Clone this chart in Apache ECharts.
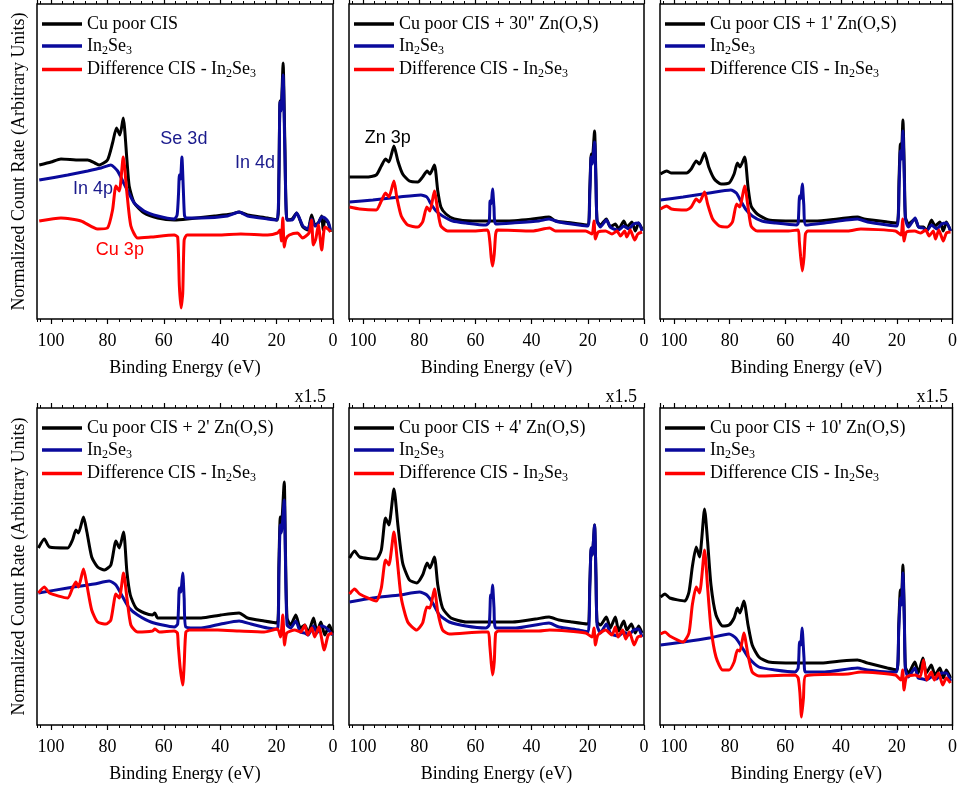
<!DOCTYPE html>
<html>
<head>
<meta charset="utf-8">
<script src="https://cdn.jsdelivr.net/npm/echarts@6/dist/echarts.min.js"></script>
<style>
html, body { margin: 0; padding: 0; background: #fff; }
#main { width: 960px; height: 786px; }
</style>
</head>
<body>
<div id="main"></div>
<script>
// binding energy (eV) / normalized count rate (arb. units) pairs
var p1Cis = [[104.2,154],[100,157],[96.5,160],[90,159],[87,159],[84.5,156],[82.9,154],[80,159],[78.2,176],[76.8,191],[75.6,184],[74.4,201],[73.1,159],[72.3,133],[70.5,116],[67,106],[62.2,101],[56.3,99],[51.6,100],[42,103],[36,105],[33.3,107],[30.3,104],[23.2,101],[19.7,99],[19.2,140],[18.8,218],[18.4,210],[17.7,256],[17.1,180],[16.3,99],[14.5,100],[12.9,106],[10.7,92],[8.9,89],[7.6,104],[6.4,94],[5.2,96],[4.0,103],[3.5,89],[2.9,99],[1.7,96],[0.9,87]];
var p1In2Se3 = [[104.2,139],[94.1,144],[87,148],[82.3,151],[78.8,154],[76.4,148],[74.6,138],[72.8,128],[70.5,116],[67,108],[62.2,103],[56.3,100],[55.3,104],[54.8,125],[54.5,144],[54.1,140],[53.6,162],[53.1,130],[52.7,104],[52.2,101],[46.8,101],[37.4,103],[33.3,107],[30.3,103],[23.2,100],[19.9,99],[19.2,140],[18.8,217],[18.4,208],[17.7,244],[17.1,170],[16.3,99],[14.5,99],[12.9,106],[10.7,93],[8.9,90],[7.6,100],[6.4,93],[5.2,96],[4,102],[2.9,101],[1.7,97],[0.9,89]];
var p1Diff = [[104.2,98],[96.5,101],[89.4,98],[83.5,90],[80,91],[78.2,109],[77,133],[75.8,128],[74.4,162],[73.1,126],[71.7,93],[69.3,81],[64.6,82],[56.3,84],[55.1,82],[54.5,33],[53.9,11],[53.3,26],[52.8,79],[51.8,84],[40.9,84],[32.7,85],[23.2,84],[19.7,86],[18.8,89],[18.3,78],[17.8,101],[17.3,72],[16.7,80],[15.5,84],[12.6,86],[10.8,81],[8.5,86],[7.6,99],[7,74],[6.1,80],[5.2,94],[4,69],[2.9,92],[1.4,89],[0.9,87]];

var p2Cis = [[104.8,142],[98.9,142],[95.3,144],[93.5,153],[92,160],[90.8,157],[89,173],[87.6,158],[85.9,145],[83.5,138],[80.5,137],[78.8,142],[77.2,148],[76.2,145],[74.6,154],[73.4,128],[72.3,112],[70.5,105],[67.5,100],[61,98],[56.3,98],[49.2,98],[39.8,100],[33.8,102],[31.5,98],[25.6,96],[20.2,94],[19.3,130],[18.8,165],[18.4,160],[17.6,188],[17.1,140],[16.7,98],[15.5,94],[13.4,100],[12,92],[10.2,95],[9,90],[7.2,98],[6.1,92],[4.3,97],[3.1,88],[1.9,96],[0.7,90]];
var p2In2Se3 = [[104.8,117],[96.5,119],[87,122],[79.4,124],[77.3,122],[75.8,115],[74,108],[71.7,103],[68.1,98],[63.4,96],[56.3,94],[55.1,97],[54.8,118],[54.4,115],[53.9,130],[53.4,112],[52.8,95],[46.8,96],[37.4,98],[33.8,100],[30.3,97],[23.2,94],[19.9,93],[19.3,125],[18.8,162],[18.4,155],[17.6,177],[17.1,135],[16.7,98],[15.5,92],[13.4,99],[12,92],[10.8,90],[9,89],[7.2,93],[5.5,90],[3.7,95],[1.9,96],[0.7,88]];
var p2Diff = [[104.8,112],[101.2,110],[95.3,109],[93.5,118],[92,126],[90.8,122],[89,138],[88,122],[86.4,103],[84.1,94],[80.5,92],[78.8,97],[77.3,112],[76.2,108],[74.6,128],[73.4,108],[72.3,93],[69.9,88],[61,88],[55.7,89],[54.9,78],[54.4,62],[53.9,53],[53.3,65],[52.8,85],[52.2,89],[39.8,88],[33.6,91],[31.5,88],[20.8,88],[18.5,85],[17.8,98],[17.3,80],[16.3,87],[13.7,88],[11.4,85],[9.6,88],[8.4,83],[6.9,88],[6.1,82],[4.9,89],[3.3,79],[2.2,85],[0.7,87]];

var p3Cis = [[104.8,145],[102.6,148],[100.9,146],[95.5,146],[93.8,150],[92,158],[90.8,155],[89,166],[87.5,152],[85.5,140],[83.1,135],[80.2,136],[78.4,145],[77.2,156],[76.3,152],[74.6,162],[73.4,132],[72.3,113],[70.1,105],[66,99],[56.5,98],[49.4,98],[41.2,100],[34.1,102],[31.7,100],[23.4,97],[19.9,96],[19.2,140],[18.7,175],[18.3,168],[17.8,199],[17.3,150],[16.9,102],[15.8,95],[13.4,100],[12.2,92],[10.4,92],[9.3,88],[7.5,99],[6.3,93],[4.5,97],[3.3,88],[2.2,97],[0.7,88]];
var p3In2Se3 = [[104.8,119],[96.7,122],[87.3,126],[79.6,129],[77.6,126],[76,118],[74.3,110],[71.9,103],[68.4,98],[63.6,96],[56,94],[55.4,96],[54.9,123],[54.5,120],[53.9,135],[53.4,115],[52.6,94],[45.9,96],[34.1,100],[30.5,97],[23.4,94],[19.9,93],[19.2,130],[18.7,168],[18.3,160],[17.8,188],[17.3,140],[16.9,100],[15.8,92],[13.4,101],[12.2,92],[10.6,91],[9.3,88],[7.5,94],[5.7,90],[3.9,95],[2.2,96],[0.7,88]];
var p3Diff = [[104.8,110],[102.6,113],[100.9,110],[95.5,109],[93.8,112],[92,120],[90.8,117],[89,127],[87.9,115],[86.1,100],[83.7,93],[80.8,92],[79,97],[77.5,115],[76.4,112],[74.6,133],[73.4,112],[72.3,93],[70.1,88],[58.9,88],[55.4,89],[55,78],[54.5,62],[53.9,48],[53.3,62],[52.8,85],[52,88],[37.6,88],[32.9,90],[20.5,88],[18.5,84],[17.9,100],[17.4,78],[16.5,87],[13.6,88],[11.4,86],[9.6,89],[8.4,83],[6.9,88],[6.1,80],[4.9,89],[3.3,78],[2.2,86],[0.7,87]];

var p4Cis = [[104.5,177],[102.4,186],[100.6,178],[94.1,177],[92.4,185],[91.2,195],[90.3,192],[88.5,208],[87.3,193],[85.6,168],[83.5,158],[81.1,155],[78.8,160],[77,184],[75.8,177],[74.3,193],[73.1,153],[71.9,130],[69.9,117],[66.9,112],[64,110],[63.2,112],[62.2,107],[56.3,107],[46.8,107],[39.8,110],[33.3,112],[30.3,107],[24.4,104],[19.7,102],[19.2,160],[18.7,208],[18.3,200],[17.3,243],[16.9,180],[16.3,107],[15,100],[13.2,110],[11.6,97],[10,100],[8.8,92],[6.9,107],[5.7,93],[4.3,103],[2.9,90],[1.3,100],[0.2,92]];
var p4In2Se3 = [[104.5,132],[94.1,137],[84.7,141],[79.4,144],[77,140],[74.6,128],[72.3,117],[69.3,110],[64.6,103],[56.3,98],[55.1,101],[54.5,137],[54,133],[53.3,152],[52.8,127],[52.2,98],[46.8,97],[39.8,101],[33.3,104],[29.1,101],[23.2,97],[19.7,96],[19.2,150],[18.7,200],[18.3,192],[17.3,225],[16.9,170],[16.3,100],[15,97],[13.2,104],[11.6,93],[10,92],[8.8,90],[6.9,99],[5.7,92],[4.3,99],[2.9,98],[1.3,94],[0.2,90]];
var p4Diff = [[104.5,132],[102.4,138],[100.6,132],[94.1,127],[92.4,137],[91.2,143],[90.3,138],[88.5,156],[87.3,140],[85.6,115],[83.5,103],[80.5,101],[78.8,105],[77,131],[75.8,127],[74.3,152],[73.1,127],[71.7,100],[69.3,93],[64,94],[63.2,96],[61.6,93],[56.3,94],[55.2,92],[54.9,80],[54.2,57],[53.3,40],[52.8,60],[52.2,93],[51,95],[40.9,95],[33.3,94],[24.4,93],[19.7,96],[18.6,88],[17.8,110],[17.2,80],[16.4,92],[13.6,95],[11.4,93],[10,100],[9,90],[7.5,97],[6.5,88],[5,98],[3.1,75],[1.7,90],[0.2,92]];

var p5Cis = [[104.8,167],[103,174],[101.2,168],[95.3,166],[93.5,175],[92,207],[90.8,200],[89,236],[87.6,200],[85.9,162],[83.5,145],[80.9,142],[78.8,150],[77.2,162],[76.2,157],[74.6,168],[73.4,140],[71.7,117],[68.7,107],[63.4,103],[55.7,103],[46.8,103],[38.6,106],[33.8,108],[30.3,105],[25.6,103],[20.2,101],[19.3,140],[18.8,177],[18.4,170],[17.6,200],[17.1,150],[16.7,103],[15.5,100],[13.4,108],[12,97],[10.2,108],[9,94],[7.2,104],[6.1,95],[4.5,101],[3.1,92],[1.9,99],[0.7,92]];
var p5In2Se3 = [[104.8,123],[96.5,127],[87,130],[79.9,133],[77.3,130],[75.2,122],[72.8,110],[69.3,103],[63.4,99],[56.3,97],[55.1,100],[54.6,130],[54.3,127],[53.9,140],[53.4,118],[52.8,97],[45.7,97],[33.8,102],[30.3,98],[23.2,95],[19.9,93],[19.3,138],[18.8,177],[18.4,170],[17.6,200],[17.1,148],[16.7,100],[15.5,92],[13.4,101],[12,92],[10.8,90],[9,89],[7.2,93],[5.5,90],[3.7,95],[1.9,96],[0.7,88]];
var p5Diff = [[104.8,131],[103,136],[101.2,131],[95.3,124],[93.5,137],[92,165],[90.8,160],[89,193],[87.9,167],[86.4,127],[84.1,103],[80.9,95],[78.8,102],[77.3,118],[76.2,117],[74.6,136],[73.4,113],[71.7,95],[69.3,91],[57.5,93],[55.4,93],[54.9,80],[54.4,63],[53.9,50],[53.3,63],[52.8,92],[51.8,94],[37.4,94],[33.6,95],[20.8,92],[18.5,88],[17.8,97],[17.3,80],[16.4,90],[13.7,95],[11.4,90],[10.2,98],[9.2,88],[7.6,95],[6.5,86],[5.2,93],[3.5,80],[2.2,88],[0.7,89]];

var p6Cis = [[104.8,128],[103.2,131],[101.5,127],[96.1,124],[94.6,133],[93.4,158],[92,178],[90.8,168],[89,216],[87.9,183],[86.7,140],[84.9,110],[82.5,99],[80.2,100],[78.4,107],[77.2,117],[76.3,112],[74.9,124],[73.4,100],[71.9,80],[69.5,68],[66,63],[56.5,62],[47.1,62],[40,64],[34.1,65],[30.5,62],[23.4,57],[19.9,55],[19.3,100],[18.7,135],[18.3,128],[17.8,160],[17.3,110],[16.9,58],[15.8,52],[13.5,63],[12.3,52],[10.6,67],[9.4,52],[7.6,60],[6.3,50],[4.5,57],[3.3,47],[2.2,55],[0.7,47]];
var p6In2Se3 = [[104.8,80],[96.7,83],[87.3,87],[80.2,91],[77.8,87],[75.4,77],[73.1,67],[69.5,58],[63.6,55],[56.5,53],[55.4,57],[54.9,83],[54.5,80],[54,97],[53.3,67],[52.8,53],[45.9,53],[34.1,57],[30.5,55],[23.4,53],[20.1,53],[19.3,95],[18.7,127],[18.3,120],[17.8,152],[17.3,105],[16.9,55],[15.8,48],[13.5,57],[12.3,47],[10.6,46],[9.4,45],[7.5,48],[5.7,46],[3.9,52],[2.2,52],[0.7,44]];
var p6Diff = [[104.8,91],[103.2,93],[101.5,89],[96.7,83],[94.6,92],[93.4,120],[92,138],[90.8,132],[89,175],[87.9,137],[86.7,97],[84.9,68],[82.5,55],[80.2,55],[78.4,63],[77.2,75],[76.3,74],[74.9,92],[73.4,70],[71.9,53],[69.5,49],[56.5,50],[55.4,47],[54.8,33],[54.2,8],[53.5,27],[52.8,49],[37.6,51],[32.9,53],[20.5,50],[18.5,45],[17.9,55],[17.4,35],[16.5,48],[13.6,50],[11.6,48],[10.4,65],[9.2,45],[7.6,53],[6.5,45],[5,52],[3.5,40],[2.2,47],[0.7,42]];

var cisNames = ['Cu poor CIS', 'Cu poor CIS + 30" Zn(O,S)', "Cu poor CIS + 1' Zn(O,S)",
  "Cu poor CIS + 2' Zn(O,S)", "Cu poor CIS + 4' Zn(O,S)", "Cu poor CIS + 10' Zn(O,S)"];
var refName = 'In2Se3';
var diffName = 'Difference CIS - In2Se3';
var cisData = [p1Cis, p2Cis, p3Cis, p4Cis, p5Cis, p6Cis];
var refData = [p1In2Se3, p2In2Se3, p3In2Se3, p4In2Se3, p5In2Se3, p6In2Se3];
var diffData = [p1Diff, p2Diff, p3Diff, p4Diff, p5Diff, p6Diff];
var scaleMarks = ['', '', '', 'x1.5', 'x1.5', 'x1.5'];

// peak labels: [panel, energy, count rate, text, colour]
var peakLabels = [
  [0, 52.9, 180, 'Se 3d', '#1a1a8c'],
  [0, 27.7, 156, 'In 4d', '#1a1a8c'],
  [0, 85.1, 130, 'In 4p', '#1a1a8c'],
  [0, 75.6, 69, 'Cu 3p', '#ff0000'],
  [1, 91.2, 181, 'Zn 3p', '#000000']
];

var colLeft = [37, 349, 660];
var colWidth = [296, 295, 295];
var rowTop = [4, 408];
var rowHeight = [315, 317];
var serif = 'Liberation Serif, Times New Roman, serif';

function legendText(name) {
  if (name === refName) return '{t|In}{s|2}{t|Se}{s|3}';
  if (name === diffName) return '{t|Difference CIS - In}{s|2}{t|Se}{s|3}';
  return '{t|' + name + '}';
}

var grids = [], xAxes = [], yAxes = [], series = [], legends = [];
for (var g = 0; g < 6; g++) {
  var r = Math.floor(g / 3), c = g % 3;
  grids.push({ left: colLeft[c], top: rowTop[r], width: colWidth[c], height: rowHeight[r],
    show: true, borderColor: '#000', borderWidth: 1.5, backgroundColor: 'transparent' });
  var base = { gridIndex: g, type: 'value', min: 0, max: 105, inverse: true,
    splitLine: { show: false }, axisLine: { show: false } };
  // bottom major ticks + labels
  xAxes.push(Object.assign({}, base, { position: 'bottom', interval: 20,
    axisTick: { show: true, inside: false, length: 5, lineStyle: { color: '#000', width: 1.2 } },
    axisLabel: { show: true, margin: 13, fontFamily: serif, fontSize: 18, color: '#000', showMaxLabel: false },
    name: 'Binding Energy (eV)', nameLocation: 'middle', nameGap: 40,
    nameTextStyle: { fontFamily: serif, fontSize: 18, color: '#000' } }));
  // bottom minor ticks
  xAxes.push(Object.assign({}, base, { position: 'bottom', interval: 4,
    axisTick: { show: true, inside: false, length: 3, lineStyle: { color: '#000', width: 1 } },
    axisLabel: { show: false } }));
  // top ticks
  xAxes.push(Object.assign({}, base, { position: 'top', interval: 20,
    axisTick: { show: true, inside: false, length: 5, lineStyle: { color: '#000', width: 1.2 } },
    axisLabel: { show: false } }));
  xAxes.push(Object.assign({}, base, { position: 'top', interval: 4,
    axisTick: { show: true, inside: false, length: 3, lineStyle: { color: '#000', width: 1 } },
    axisLabel: { show: false } }));
  yAxes.push({ gridIndex: g, type: 'value', min: 0, max: rowHeight[r],
    splitLine: { show: false }, axisLine: { show: false }, axisTick: { show: false }, axisLabel: { show: false },
    name: c === 0 ? 'Normalized Count Rate (Arbitrary Units)' : '', nameLocation: 'middle', nameGap: 9,
    nameTextStyle: { fontFamily: serif, fontSize: 18, color: '#000' } });

  var lines = [[cisNames[g], cisData[g], '#000000'], [refName, refData[g], '#0a0a9c'], [diffName, diffData[g], '#ff0000']];
  lines.forEach(function (l) {
    series.push({ name: l[0], type: 'line', xAxisIndex: g * 4, yAxisIndex: g, data: l[1],
      showSymbol: false, symbol: 'none', smooth: 0.2, color: l[2],
      lineStyle: { width: 3, color: l[2] }, animation: false });
  });

  legends.push({ left: colLeft[c] + 5, top: rowTop[r] + 11, orient: 'vertical', padding: 0,
    itemWidth: 40, itemHeight: 3.5, itemGap: 4, icon: 'rect', selectedMode: false,
    data: [cisNames[g], refName, diffName], formatter: legendText,
    textStyle: { rich: {
      t: { fontFamily: serif, fontSize: 18, color: '#000' },
      s: { fontFamily: serif, fontSize: 12, color: '#000', padding: [9, 0, 0, 0] }
    } } });
}

var chart = echarts.init(document.getElementById('main'));
chart.setOption({
  animation: false,
  grid: grids,
  xAxis: xAxes,
  yAxis: yAxes,
  legend: legends,
  series: series
});

var texts = [];
peakLabels.forEach(function (p) {
  var pt = chart.convertToPixel({ xAxisIndex: p[0] * 4, yAxisIndex: p[0] }, [p[1], p[2]]);
  texts.push({ type: 'text', x: pt[0], y: pt[1],
    style: { text: p[3], fill: p[4], font: '18px "Liberation Sans", Arial, sans-serif',
      textAlign: 'center', textVerticalAlign: 'middle' } });
});
scaleMarks.forEach(function (m, g) {
  if (!m) return;
  var r = Math.floor(g / 3), c = g % 3;
  texts.push({ type: 'text', x: colLeft[c] + colWidth[c] - 7, y: rowTop[r] - 11,
    style: { text: m, fill: '#000', font: '18px "Liberation Serif", serif',
      textAlign: 'right', textVerticalAlign: 'middle' } });
});
chart.setOption({ graphic: texts });
</script>
</body>
</html>
